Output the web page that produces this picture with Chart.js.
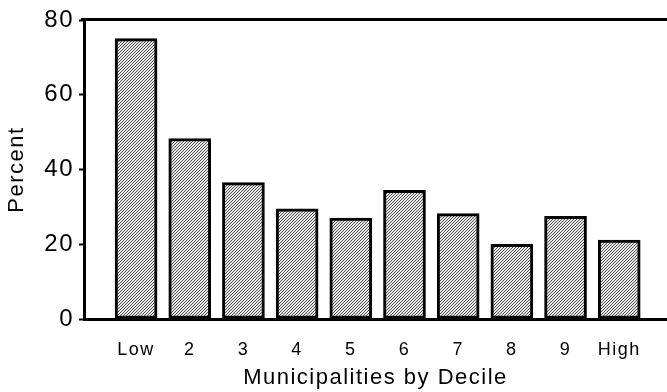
<!DOCTYPE html>
<html>
<head>
<meta charset="utf-8">
<script src="https://cdn.jsdelivr.net/npm/chart.js@4.4.1/dist/chart.umd.min.js"></script>
<style>
  html, body { margin: 0; padding: 0; background: #fff; overflow: hidden; }
  #wrap { width: 667px; height: 392px; position: relative; }
</style>
</head>
<body>
<div id="wrap"><canvas id="barChart"></canvas></div>
<script>
const deciles = ['Low', '2', '3', '4', '5', '6', '7', '8', '9', 'High'];
const percent = [75, 48.3, 36.5, 29.5, 27, 34.4, 28.2, 20, 27.5, 21.1];
const yTicks = [0, 20, 40, 60, 80];

const FONT = "'Liberation Sans', Arial, Helvetica, sans-serif";

// fine diagonal hatch used as the bar fill
function hatchPattern(ctx) {
  const tile = document.createElement('canvas');
  tile.width = 3;
  tile.height = 3;
  const t = tile.getContext('2d');
  t.fillStyle = '#ececec';
  t.fillRect(0, 0, 3, 3);
  t.fillStyle = '#4a4a4a';
  for (let x = 0; x < 3; x++) {
    for (let y = 0; y < 3; y++) {
      if ((x + y) % 3 === 0) t.fillRect(x, y, 1, 1);
    }
  }
  return ctx.createPattern(tile, 'repeat');
}

// wide Helvetica-style lettering
const letterSpacing = {
  id: 'letterSpacing',
  beforeLayout(chart) { chart.ctx.letterSpacing = '1.5px'; },
  beforeDraw(chart) { chart.ctx.letterSpacing = '1.5px'; }
};

// frame line along the top of the plot
const topFrame = {
  id: 'topFrame',
  afterDraw(chart) {
    const { ctx, chartArea } = chart;
    ctx.save();
    ctx.strokeStyle = '#000';
    ctx.lineWidth = 3;
    ctx.beginPath();
    ctx.moveTo(chartArea.left - 3, chartArea.top - 0.5);
    ctx.lineTo(chart.width, chartArea.top - 0.5);
    ctx.stroke();
    ctx.restore();
  }
};

document.addEventListener('DOMContentLoaded', () => {
  const canvas = document.getElementById('barChart');
  const ctx = canvas.getContext('2d');

  new Chart(canvas, {
    type: 'bar',
    data: {
      datasets: [{
        data: percent.map((v, i) => ({ x: i + 1, y: v })),
        backgroundColor: hatchPattern(ctx),
        borderColor: '#000',
        borderWidth: 3,
        borderSkipped: false,
        barThickness: 42
      }]
    },
    options: {
      responsive: true,
      maintainAspectRatio: false,
      animation: false,
      layout: { padding: { top: 20, right: 0, bottom: 0, left: 0 } },
      scales: {
        x: {
          type: 'linear',
          offset: false,
          min: 0.03,
          max: 10.89,
          grid: { display: false, drawTicks: false, offset: false },
          border: { display: true, color: '#000', width: 3 },
          afterBuildTicks: (scale) => {
            scale.ticks = deciles.map((d, i) => ({ value: i + 1 }));
          },
          afterFit: (scale) => { scale.height = 73; },
          ticks: {
            autoSkip: false,
            maxRotation: 0,
            padding: 20,
            color: '#000',
            font: { family: FONT, size: 18 },
            callback: (v) => deciles[v - 1]
          },
          title: {
            display: true,
            text: 'Municipalities by Decile',
            color: '#000',
            font: { family: FONT, size: 22 },
            padding: { top: 0, bottom: 1 }
          }
        },
        y: {
          min: 0,
          max: 80,
          afterBuildTicks: (scale) => {
            scale.ticks = yTicks.map(v => ({ value: v }));
          },
          afterFit: (scale) => { scale.width = 84; },
          grid: {
            drawOnChartArea: false,
            tickLength: 5,
            tickWidth: 2,
            color: '#000'
          },
          border: { display: true, color: '#000', width: 3 },
          ticks: {
            padding: 5,
            color: '#000',
            font: { family: FONT, size: 24 }
          },
          title: {
            display: true,
            text: 'Percent',
            color: '#000',
            font: { family: FONT, size: 22 },
            padding: { top: 4, bottom: 0 }
          }
        }
      },
      plugins: {
        legend: { display: false },
        tooltip: { enabled: false }
      }
    },
    plugins: [letterSpacing, topFrame]
  });
});
</script>
</body>
</html>
